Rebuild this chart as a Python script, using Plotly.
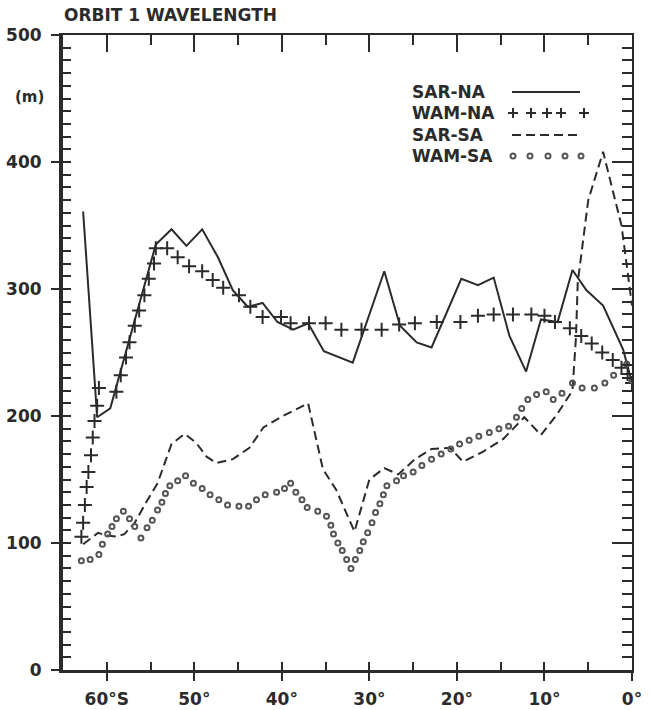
import plotly.graph_objects as go

# ---------------- data (latitude in degrees south, wavelength in m) ----------------
sar_na_lat = [62.7, 61.1, 59.6, 54.4, 52.6, 50.9, 49.1, 47.3, 45.6, 43.9, 42.2, 40.5, 38.7,
              37.0, 35.2, 31.9, 28.3, 26.5, 24.6, 22.9, 19.5, 17.6, 15.8, 14.0, 12.1, 10.4,
              8.5, 6.8, 5.2, 3.3, 1.0, 0.0]
sar_na_val = [361, 199, 206, 335, 347, 334, 347, 325, 299, 286, 289, 274, 268,
              273, 251, 242, 314, 271, 258, 254, 308, 303, 309, 263, 235, 276,
              274, 315, 299, 287, 252, 226]

wam_na_lat = [62.9, 62.7, 62.5, 62.3, 62.1, 61.8, 61.6, 61.4, 61.1, 60.9, 58.9, 58.4, 57.8,
              57.4, 56.8, 56.3, 55.7, 55.2, 54.6, 54.4, 53.1, 51.9, 50.6, 49.1, 47.9, 46.7,
              44.9, 43.6, 42.2, 40.1, 39.0, 36.9, 35.0, 33.2, 30.9, 28.6, 26.6, 24.8, 22.3,
              19.6, 17.6, 15.8, 13.6, 11.5, 10.0, 8.8, 7.1, 5.8, 4.6, 3.4, 2.2, 1.2, 0.5, 0.0]
wam_na_val = [105, 116, 130, 144, 156, 169, 183, 196, 208, 222, 219, 232, 246,
              258, 271, 283, 295, 308, 320, 332, 332, 325, 318, 314, 307, 301,
              295, 286, 278, 278, 273, 273, 273, 268, 268, 268, 272, 273, 274,
              274, 279, 280, 280, 280, 279, 274, 269, 263, 257, 250, 244, 238, 233, 226]

sar_sa_lat = [62.7, 61.8, 61.0, 60.1, 58.9, 58.0, 56.8, 55.5, 54.2, 52.6, 51.1, 49.8, 48.6,
              47.5, 45.6, 43.7, 42.1, 39.9, 37.0, 35.3, 33.8, 31.7, 30.0, 28.3, 26.7, 24.8,
              22.9, 20.8, 19.3, 17.0, 14.7, 12.3, 10.4, 8.6, 6.8, 6.4, 6.2, 5.0, 3.3, 1.2, 0.0]
sar_sa_val = [99, 104, 108, 106, 105, 107, 116, 132, 147, 178, 186, 179, 168,
              163, 166, 175, 191, 200, 210, 158, 142, 109, 150, 159, 154, 166,
              174, 175, 164, 172, 182, 199, 185, 201, 220, 262, 305, 370, 408, 350, 287]

wam_sa_lat = [62.9, 61.9, 60.9, 60.5, 59.9, 59.4, 58.9, 58.1, 57.4, 56.8, 56.1, 55.4, 54.8,
              54.2, 53.7, 53.3, 52.8, 51.9, 51.0, 50.1, 49.1, 48.2, 47.2, 46.2, 44.9, 43.8,
              42.9, 41.9, 40.6, 39.7, 39.0, 38.4, 37.7, 37.1, 35.9, 34.9, 34.4, 34.1, 33.6,
              33.1, 32.6, 32.1, 31.6, 31.1, 30.7, 30.2, 29.7, 29.3, 28.8, 28.4, 28.0, 26.9,
              26.1, 25.0, 24.0, 22.9, 21.8, 20.7, 19.7, 18.6, 17.5, 16.3, 15.2, 14.1, 13.2,
              12.6, 11.9, 10.9, 9.8, 9.0, 8.0, 6.8, 5.7, 4.3, 3.1, 2.1, 0.6, 0.0]
wam_sa_val = [86, 87, 91, 99, 107, 113, 119, 125, 119, 113, 104, 112, 118,
              126, 132, 139, 145, 149, 153, 147, 143, 138, 134, 130, 129, 129,
              134, 138, 140, 143, 147, 140, 134, 128, 125, 121, 114, 107, 100,
              94, 87, 80, 87, 94, 101, 108, 116, 124, 131, 138, 145, 149,
              153, 156, 161, 166, 170, 174, 178, 181, 184, 187, 190, 192, 199,
              206, 213, 217, 219, 213, 218, 226, 222, 222, 226, 232, 241, 228]

x_tick_vals = [60, 50, 40, 30, 20, 10, 0]
x_tick_text = ["60°S", "50°", "40°", "30°", "20°", "10°", "0°"]
y_tick_vals = [0, 100, 200, 300, 400, 500]

legend_names = ["SAR-NA", "WAM-NA", "SAR-SA", "WAM-SA"]

# ---------------- styling ----------------
INK = "#2b2b2b"
FONT = "DejaVu Sans"
W, H = 652, 710
L, R, T, B = 63, 20, 35, 40
PW, PH = W - L - R, H - T - B


def px(xpix):
    return (xpix - L) / PW


def py(ypix):
    return (H - B - ypix) / PH


fig = go.Figure()

fig.add_trace(go.Scatter(x=sar_na_lat, y=sar_na_val, mode="lines", name=legend_names[0],
                         line=dict(color=INK, width=2), showlegend=False))
fig.add_trace(go.Scatter(x=wam_na_lat, y=wam_na_val, mode="markers", name=legend_names[1],
                         marker=dict(symbol="cross-thin", size=10, line=dict(color=INK, width=2)),
                         showlegend=False))
fig.add_trace(go.Scatter(x=sar_sa_lat, y=sar_sa_val, mode="lines", name=legend_names[2],
                         line=dict(color=INK, width=2, dash="9px,5px"), showlegend=False))
fig.add_trace(go.Scatter(x=wam_sa_lat, y=wam_sa_val, mode="markers", name=legend_names[3],
                         marker=dict(symbol="circle-open", size=5, color="#555555",
                                     line=dict(color="#555555", width=2)),
                         showlegend=False))

# invisible helper traces so the overlay axes (tick decorations) are drawn
fig.add_trace(go.Scatter(x=wam_sa_lat[:1], y=wam_sa_val[:1], xaxis="x2", yaxis="y2",
                         mode="markers", marker=dict(opacity=0), showlegend=False,
                         hoverinfo="skip"))
fig.add_trace(go.Scatter(x=wam_sa_lat[:1], y=wam_sa_val[:1], xaxis="x3", yaxis="y3",
                         mode="markers", marker=dict(opacity=0), showlegend=False,
                         hoverinfo="skip"))

tickfont = dict(family=FONT, size=17, color=INK, weight="bold")

fig.update_layout(
    width=W, height=H,
    margin=dict(l=L, r=R, t=T, b=B, autoexpand=False),
    paper_bgcolor="white", plot_bgcolor="white",
    font=dict(family=FONT, color=INK),
    showlegend=False,
    xaxis=dict(range=[65, 0], tickmode="array", tickvals=x_tick_vals, ticktext=x_tick_text,
               ticks="outside", ticklen=8, tickwidth=2, tickcolor=INK,
               showline=True, linewidth=3, linecolor=INK, showgrid=False, zeroline=False,
               tickfont=tickfont, ticklabelstandoff=4, anchor="y", automargin=False),
    xaxis2=dict(range=[65, 0], overlaying="x", side="top", anchor="y2",
                tick0=0, dtick=10, ticks="inside", ticklen=17, tickwidth=2, tickcolor=INK,
                minor=dict(tick0=0, dtick=5, ticks="inside", ticklen=10, tickwidth=2,
                           tickcolor=INK),
                showticklabels=False, showline=True, linewidth=2, linecolor=INK,
                showgrid=False, zeroline=False, automargin=False),
    xaxis3=dict(range=[65, 0], overlaying="x", side="bottom", anchor="y3",
                tick0=0, dtick=5, ticks="inside", ticklen=8, tickwidth=2, tickcolor=INK,
                showticklabels=False, showline=False, showgrid=False, zeroline=False,
                automargin=False),
    yaxis=dict(range=[0, 500], tickmode="array", tickvals=y_tick_vals,
               ticks="outside", ticklen=8, tickwidth=2, tickcolor=INK,
               showline=True, linewidth=4, linecolor=INK, showgrid=False, zeroline=False,
               tickfont=tickfont, ticklabelstandoff=6, anchor="x", automargin=False),
    yaxis2=dict(range=[0, 500], overlaying="y", side="right", anchor="x2",
                tick0=0, dtick=100, ticks="inside", ticklen=20, tickwidth=2, tickcolor=INK,
                minor=dict(tick0=0, dtick=10, ticks="inside", ticklen=10, tickwidth=2,
                           tickcolor=INK),
                showticklabels=False, showline=True, linewidth=2, linecolor=INK,
                showgrid=False, zeroline=False, automargin=False),
    yaxis3=dict(range=[0, 500], overlaying="y", side="left", anchor="x3",
                tick0=0, dtick=10, ticks="inside", ticklen=8, tickwidth=2, tickcolor=INK,
                showticklabels=False, showline=False, showgrid=False, zeroline=False,
                automargin=False),
)

annotations = [
    dict(text="ORBIT 1 WAVELENGTH", xref="paper", yref="paper", x=px(62), y=py(15),
         xanchor="left", yanchor="middle", showarrow=False,
         font=dict(family=FONT, size=17, color=INK, weight="bold")),
    dict(text="(m)", xref="paper", yref="paper", x=px(46), y=py(97),
         xanchor="right", yanchor="middle", showarrow=False,
         font=dict(family=FONT, size=15, color=INK, weight="bold")),
]
legend_rows_y = [92, 113, 135, 156]
for name, ry in zip(legend_names, legend_rows_y):
    annotations.append(dict(text=name, xref="paper", yref="paper", x=px(410), y=py(ry),
                            xanchor="left", yanchor="middle", showarrow=False,
                            font=dict(family=FONT, size=17, color=INK, weight="bold")))

shapes = []
# solid sample
shapes.append(dict(type="line", xref="paper", yref="paper", x0=px(512), x1=px(580),
                   y0=py(legend_rows_y[0]), y1=py(legend_rows_y[0]),
                   line=dict(color=INK, width=2)))
# plus samples
for cx in [513, 531, 547, 561, 584]:
    cy = legend_rows_y[1]
    shapes.append(dict(type="line", xref="paper", yref="paper", x0=px(cx - 5), x1=px(cx + 5),
                       y0=py(cy), y1=py(cy), line=dict(color=INK, width=2)))
    shapes.append(dict(type="line", xref="paper", yref="paper", x0=px(cx), x1=px(cx),
                       y0=py(cy - 5), y1=py(cy + 5), line=dict(color=INK, width=2)))
# dashed sample
shapes.append(dict(type="line", xref="paper", yref="paper", x0=px(512), x1=px(580),
                   y0=py(legend_rows_y[2]), y1=py(legend_rows_y[2]),
                   line=dict(color=INK, width=2, dash="9px,5px")))
# circle samples
for cx in [513, 530, 548, 565, 581]:
    cy = legend_rows_y[3]
    shapes.append(dict(type="circle", xref="paper", yref="paper",
                       x0=px(cx - 2.5), x1=px(cx + 2.5), y0=py(cy + 2.5), y1=py(cy - 2.5),
                       line=dict(color="#555555", width=2)))

fig.update_layout(annotations=annotations, shapes=shapes)

fig.write_html("out.html",
               config={"displayModeBar": False},
               post_script="document.body.style.margin='0px';"
                           "document.body.style.overflow='hidden';")
